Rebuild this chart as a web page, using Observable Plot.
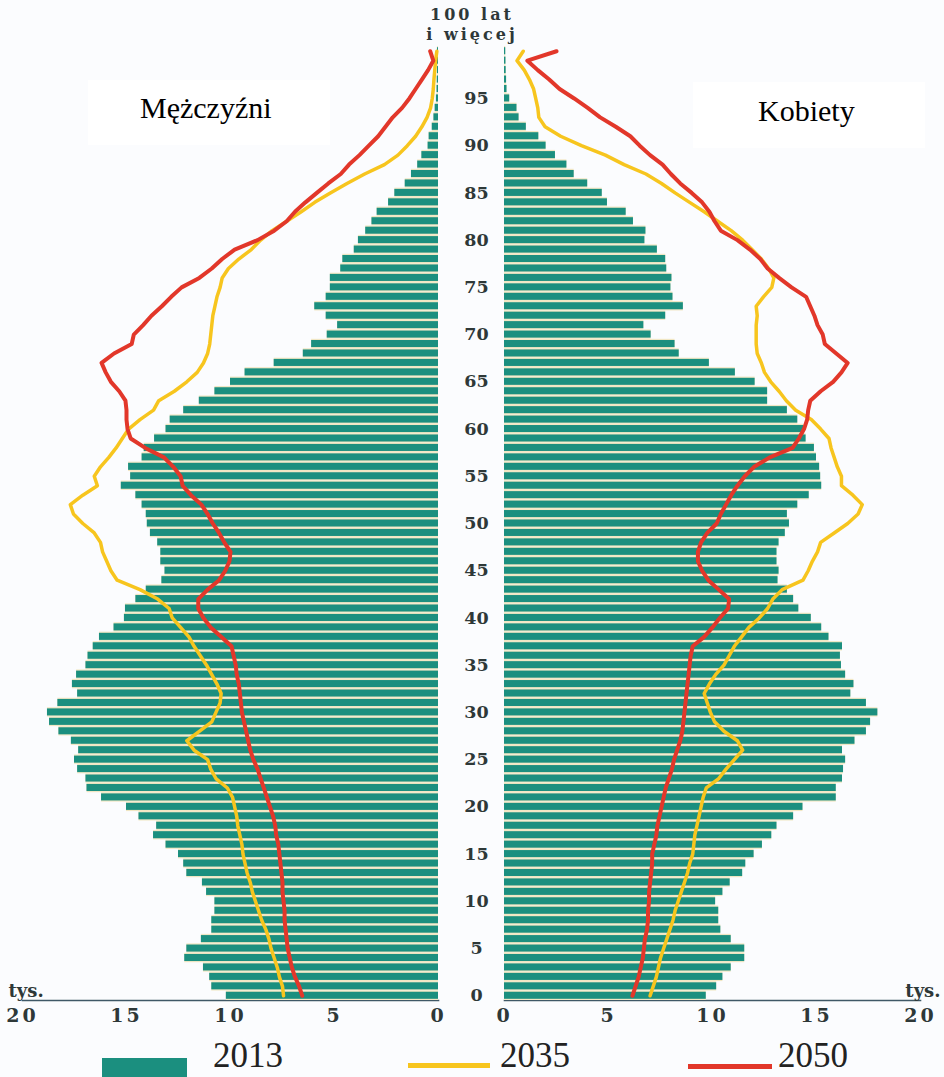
<!DOCTYPE html>
<html>
<head>
<meta charset="utf-8">
<script src="https://cdn.jsdelivr.net/npm/d3@7"></script>
<script src="https://cdn.jsdelivr.net/npm/@observablehq/plot@0.6"></script>
<style>
  html, body { margin: 0; padding: 0; background: #fbfcfe; width: 944px; height: 1077px; overflow: hidden; }
  #wrap { position: relative; width: 944px; height: 1077px; }
  #left { position: absolute; left: 0; top: 0; width: 455px; }
  #right { position: absolute; left: 455px; top: 0; width: 489px; }
  .box { position: absolute; background: #ffffff; }
  .title { position: absolute; font-family: "Liberation Serif", serif; font-size: 30px; line-height: 30px; color: #000; white-space: nowrap; }
  #top100 { position: absolute; left: 392px; width: 160px; top: 5px; text-align: center; font-family: "DejaVu Serif", serif; font-weight: bold; font-size: 16px; line-height: 20px; letter-spacing: 3px; color: #2e3838; }
  .leg { position: absolute; }
  .legtxt { position: absolute; font-family: "Liberation Serif", serif; font-size: 35px; line-height: 34px; height: 34px; color: #222; }
  g[aria-label="age-labels"] text { letter-spacing: 5px; }
  g[aria-label="x-axis tick label"] text { letter-spacing: 3px; }
</style>
</head>
<body>
<div id="wrap">
  <div id="left"></div>
  <div id="right"></div>
  <div class="box" style="left:88px;top:80px;width:242px;height:65px;"></div>
  <div class="title" style="left:140px;top:93px;">Mężczyźni</div>
  <div class="box" style="left:693px;top:82px;width:232px;height:66px;"></div>
  <div class="title" style="left:758px;top:96px;">Kobiety</div>
  <div id="top100">100 lat<br>i więcej</div>
  <div class="leg" style="left:102px;top:1058px;width:85px;height:19px;background:#1b8f7f;"></div>
  <div class="legtxt" style="left:213px;top:1039px;">2013</div>
  <div class="leg" style="left:408px;top:1063px;width:82px;height:5px;background:#f7c51e;"></div>
  <div class="legtxt" style="left:500px;top:1039px;">2035</div>
  <div class="leg" style="left:688px;top:1064px;width:84px;height:5px;background:#e2372a;"></div>
  <div class="legtxt" style="left:778px;top:1039px;">2050</div>
</div>
<script>
// Age categories 0..100
const ages = [0,1,2,3,4,5,6,7,8,9,10,11,12,13,14,15,16,17,18,19,20,21,22,23,24,25,26,27,28,29,30,31,32,33,34,35,36,37,38,39,40,41,42,43,44,45,46,47,48,49,50,51,52,53,54,55,56,57,58,59,60,61,62,63,64,65,66,67,68,69,70,71,72,73,74,75,76,77,78,79,80,81,82,83,84,85,86,87,88,89,90,91,92,93,94,95,96,97,98,99,100];

// Men (Mężczyźni), thousands
const men2013 = [10.2,10.9,11.0,11.3,12.2,12.1,11.4,10.9,10.9,10.75,10.75,11.15,11.35,12.1,12.25,12.5,13.1,13.7,13.55,14.4,15.0,16.2,16.9,16.95,17.35,17.5,17.3,17.65,18.25,18.7,18.8,18.3,17.35,17.6,17.4,16.95,16.85,16.6,16.3,15.6,15.1,15.05,14.55,14.05,13.3,13.15,13.35,13.35,13.5,13.85,14.0,14.05,14.25,14.55,15.25,14.8,14.9,14.25,14.15,13.65,13.1,12.9,12.25,11.5,10.75,10.0,9.3,7.9,6.5,6.1,5.35,4.85,5.4,5.95,5.4,5.2,5.2,4.7,4.6,4.05,3.85,3.5,3.2,2.95,2.4,2.1,1.6,1.3,1.0,0.8,0.5,0.45,0.3,0.22,0.16,0.1,0.07,0.06,0.05,0.05,0.05];
const men2035 = [7.45,7.5,7.65,7.75,7.9,8.05,8.15,8.3,8.5,8.65,8.8,8.95,9.05,9.2,9.3,9.4,9.45,9.55,9.65,9.7,9.8,9.9,10.15,10.7,10.95,11.1,11.75,12.1,11.5,10.9,10.7,10.5,10.45,10.65,10.9,11.15,11.45,11.75,12.0,12.4,12.8,12.95,13.5,14.35,15.45,15.75,15.95,16.15,16.25,16.55,17.1,17.55,17.7,17.1,16.4,16.55,16.25,15.85,15.5,15.2,14.9,14.35,13.7,13.45,12.7,12.1,11.6,11.3,11.1,11.0,10.95,10.9,10.85,10.75,10.65,10.5,10.4,10.1,9.6,9.0,8.55,8.0,7.3,6.6,5.95,5.2,4.4,3.55,2.6,1.95,1.5,1.1,0.8,0.55,0.38,0.3,0.25,0.22,0.18,0.14,0.08];
const men2050 = [6.55,6.7,6.9,7.05,7.15,7.25,7.3,7.35,7.4,7.4,7.45,7.5,7.5,7.55,7.6,7.65,7.7,7.8,7.85,7.95,8.1,8.25,8.4,8.55,8.7,8.9,9.05,9.15,9.25,9.35,9.45,9.5,9.55,9.6,9.7,9.75,9.85,9.95,10.45,10.95,11.3,11.55,11.55,11.1,10.55,10.25,10.05,10.0,10.3,10.55,10.85,11.1,11.4,11.9,12.3,12.4,12.75,13.2,14.1,14.8,14.95,15.0,15.0,15.05,15.35,15.75,16.0,16.2,15.6,14.75,14.65,14.2,13.8,13.3,12.85,12.35,11.5,10.9,10.4,9.8,8.7,7.9,7.3,6.9,6.4,5.85,5.3,4.7,4.3,3.8,3.35,2.9,2.55,2.2,1.75,1.4,1.1,0.8,0.5,0.25,0.4];

// Women (Kobiety), thousands
const women2013 = [9.7,10.2,10.5,10.9,11.55,11.55,10.9,10.4,10.3,10.3,10.15,10.5,10.85,11.45,11.6,12.0,12.4,12.85,13.1,13.9,14.35,15.95,15.95,16.25,16.3,16.4,16.25,16.85,17.4,17.6,17.95,17.4,16.65,16.8,16.4,16.2,16.15,16.25,15.6,15.25,14.75,14.15,13.9,13.6,13.15,13.2,13.1,13.1,13.2,13.5,13.7,13.6,14.1,14.65,15.25,15.2,15.15,15.0,14.9,14.5,14.4,14.1,13.6,12.65,12.65,12.05,11.1,9.85,8.4,8.2,7.05,6.7,7.75,8.6,8.1,8.0,8.05,7.8,7.75,7.35,6.75,6.8,6.2,5.85,4.95,4.7,4.0,3.35,3.0,2.45,2.0,1.65,1.05,0.7,0.6,0.25,0.12,0.1,0.08,0.07,0.06];
const women2035 = [7.0,7.15,7.3,7.4,7.5,7.65,7.8,7.95,8.1,8.2,8.35,8.5,8.65,8.8,8.9,9.05,9.1,9.15,9.25,9.35,9.45,9.55,9.7,10.3,10.65,11.05,11.45,11.2,10.55,10.1,9.9,9.75,9.6,9.85,10.15,10.55,10.8,11.05,11.4,11.75,12.25,12.65,12.9,13.35,14.35,14.6,14.8,15.05,15.2,15.85,16.5,17.0,17.2,16.75,16.2,16.2,16.0,15.85,15.7,15.6,15.2,14.75,14.0,13.55,13.2,12.8,12.5,12.35,12.15,12.1,12.1,12.1,12.15,12.1,12.45,12.85,12.95,12.7,12.35,11.9,11.45,10.9,10.25,9.6,8.9,8.2,7.55,6.8,5.75,4.85,3.7,2.7,1.95,1.65,1.6,1.5,1.4,1.2,0.95,0.6,0.9];
const women2050 = [6.15,6.3,6.45,6.55,6.65,6.7,6.75,6.85,6.9,6.9,6.95,6.95,7.0,7.05,7.1,7.1,7.2,7.3,7.35,7.45,7.55,7.65,7.75,7.9,8.05,8.15,8.3,8.45,8.55,8.6,8.65,8.7,8.75,8.8,8.85,8.9,8.95,9.05,9.6,10.0,10.35,10.75,10.8,10.3,9.8,9.5,9.3,9.3,9.45,9.75,10.2,10.4,10.65,10.9,11.2,11.55,12.0,12.75,13.85,14.15,14.4,14.55,14.6,14.7,15.2,15.8,16.2,16.5,15.95,15.4,15.3,15.05,14.9,14.7,14.5,13.8,13.2,12.65,12.3,11.8,11.2,10.4,10.1,9.85,9.5,9.0,8.45,8.0,7.6,7.0,6.5,6.05,5.35,4.6,4.0,3.35,2.65,2.15,1.6,1.1,2.5];

// Tick labels
const xTicks = [0, 5, 10, 15, 20];
const ageTicks = [0,5,10,15,20,25,30,35,40,45,50,55,60,65,70,75,80,85,90,95];

const menData = ages.map((a, i) => ({age: a, v2013: men2013[i], v2035: men2035[i], v2050: men2050[i]}));
const womenData = ages.map((a, i) => ({age: a, v2013: women2013[i], v2035: women2035[i], v2050: women2050[i]}));
const ageDomain = ages.slice().reverse();

const C_BAR = "#1b8f7f", C_GAP = "#f1e7c4", C_Y = "#f7c51e", C_R = "#e2372a", C_AX = "#3f5866";
const baseStyle = {background: "transparent", fontFamily: "DejaVu Serif, serif", fontWeight: "bold", fontSize: "18px", color: "#2e3838"};

function marksFor(data, side) {
  return [
    Plot.frame({anchor: "bottom", stroke: C_AX, strokeWidth: 1.6}),
    Plot.barX(data, {x: "v2013", y: "age", fill: C_GAP}),
    Plot.barX(data, {x: "v2013", y: "age", fill: C_BAR, insetTop: 1.2, insetBottom: 1.2}),
    Plot.line(data, {x: "v2035", y: "age", stroke: C_Y, strokeWidth: 3.5, strokeLinejoin: "round"}),
    Plot.line(data, {x: "v2050", y: "age", stroke: C_R, strokeWidth: 4, strokeLinejoin: "round"}),
    Plot.axisX(xTicks, {tickSize: 0, tickPadding: 8, fontSize: 19}),
    side === "left"
      ? Plot.text(["tys."], {frameAnchor: "bottom-left", textAnchor: "start", lineAnchor: "bottom", dx: -14, dy: -4, fontSize: 18})
      : Plot.text(["tys."], {frameAnchor: "bottom-right", textAnchor: "end", lineAnchor: "bottom", dx: 20, dy: -4, fontSize: 18})
  ];
}

const left = Plot.plot({
  width: 455, height: 1030,
  marginLeft: 22, marginRight: 17, marginTop: 46, marginBottom: 30,
  x: {domain: [0, 20], reverse: true, label: null},
  y: {type: "band", domain: ageDomain, padding: 0, axis: null},
  style: baseStyle,
  marks: marksFor(menData, "left")
});
document.getElementById("left").appendChild(left);

const right = Plot.plot({
  width: 489, height: 1030,
  marginLeft: 49, marginRight: 24, marginTop: 46, marginBottom: 30,
  x: {domain: [0, 20], label: null},
  y: {type: "band", domain: ageDomain, padding: 0, axis: null},
  style: baseStyle,
  marks: [
    ...marksFor(womenData, "right"),
    Plot.text(ageTicks, {x: () => 0, y: d => d, dx: -28, textAnchor: "middle", fontSize: 17.5, ariaLabel: "age-labels"})
  ]
});
document.getElementById("right").appendChild(right);
</script>
</body>
</html>
